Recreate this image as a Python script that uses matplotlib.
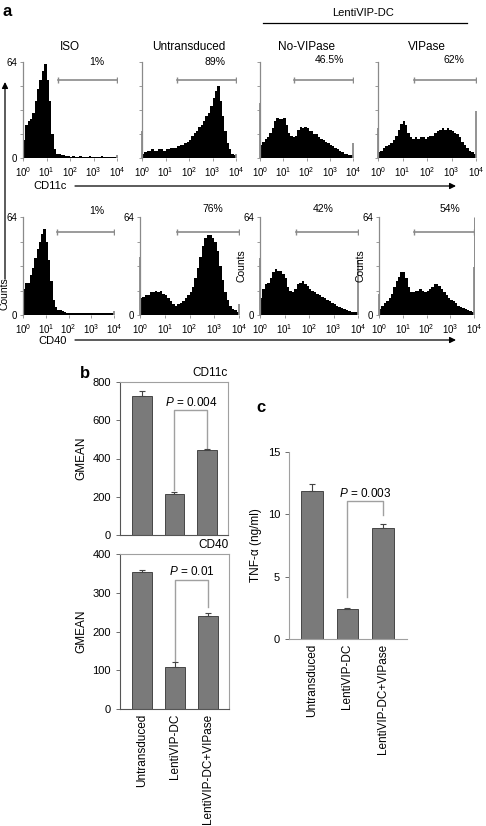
import numpy as np
import matplotlib
matplotlib.use("Agg")
import matplotlib.pyplot as plt

plt.rcParams["font.family"] = ["Liberation Sans", "DejaVu Sans"]
plt.rcParams["mathtext.fontset"] = "custom"
plt.rcParams["mathtext.rm"] = "Liberation Sans"
plt.rcParams["mathtext.it"] = "Liberation Sans:italic"

W, H = 486, 826

# ---- panel a: flow histograms (counts per 1/10 decade, 0-64 scale) ----
hist_titles = ["ISO", "Untransduced", "No-VIPase", "VIPase"]
cd11c_pct = ["1%", "89%", "46.5%", "62%"]
cd40_pct = ["1%", "76%", "42%", "54%"]

cd11c_iso = [12, 22, 25, 26, 30, 38, 46, 52, 58, 63, 52, 38, 16, 6, 3, 3, 2, 2, 1.5, 1.5,
             1, 1.5, 1, 1, 1.5, 1, 1, 1, 1.5, 1, 1, 1, 1, 1.5, 1, 1, 1, 1, 1, 1]
cd11c_untr = [3, 4, 5, 5, 6, 5, 5, 6, 6, 5, 6, 6, 7, 7, 7, 8, 9, 9, 10, 11,
              12, 15, 17, 18, 21, 22, 25, 28, 30, 35, 40, 45, 48, 38, 28, 18, 10, 6, 3, 2]
cd11c_novip = [9, 11, 13, 14, 17, 20, 25, 27, 26, 26, 27, 22, 17, 15, 14, 15, 19, 21, 20, 21,
               20, 18, 18, 16, 16, 14, 13, 12, 11, 10, 9, 8, 7, 6, 5, 4, 3, 2.5, 2, 2]
cd11c_vip = [4, 5, 7, 8, 9, 10, 12, 15, 19, 23, 25, 22, 17, 14, 13, 14, 13, 14, 14, 13,
             14, 15, 15, 17, 18, 19, 20, 19, 20, 19, 18, 17, 16, 14, 11, 9, 7, 5, 4, 3]

cd40_iso = [17, 21, 21, 26, 31, 37, 43, 48, 53, 56, 48, 36, 22, 10, 5, 3.5, 3, 2.5, 2, 1.5,
            1, 1, 1.5, 1, 1, 1, 1.5, 1, 1, 1, 1, 1.5, 1, 1, 1, 1, 1, 1, 1, 1]
cd40_untr = [11, 12, 13, 13, 15, 15, 16, 15, 16, 14, 13, 11, 9, 7, 6, 7, 8, 9, 11, 13,
             15, 18, 24, 31, 38, 45, 50, 52, 52, 50, 48, 42, 32, 23, 15, 10, 6, 4, 3, 2]
cd40_novip = [11, 17, 20, 21, 24, 28, 30, 29, 29, 27, 24, 18, 16, 15, 17, 20, 21, 22, 20, 19,
              17, 16, 15, 14, 13, 12, 11, 10, 9, 8, 7, 6, 5, 4.5, 4, 3, 2.5, 2, 2, 2]
cd40_vip = [4, 6, 8, 9, 11, 14, 18, 22, 25, 28, 28, 24, 18, 15, 15, 16, 16, 17, 16, 15,
            16, 17, 18, 20, 20, 19, 17, 15, 13, 11, 10, 9, 8, 6, 5, 4.5, 4, 3, 2.5, 2]

# off-scale first / last channel counts
cd11c_first = [0, 18, 37, 20]
cd11c_last = [2, 3, 10, 31.5]
cd40_first = [0, 38, 37, 13.5]
cd40_last = [2.5, 7, 36, 31.5]

gate_low, gate_high = 30, 1e4
cd11c_gate_y = 52
cd40_gate_y = 54

# ---- panel b / c: bar charts ----
groups = ["Untransduced", "LentiVIP-DC", "LentiVIP-DC+VIPase"]
cd11c_gmean = [725, 212, 442]
cd11c_err = [30, 14, 6]
cd40_gmean = [354, 108, 240]
cd40_err = [5, 13, 8]
tnf = [11.9, 2.4, 8.9]
tnf_err = [0.5, 0.1, 0.3]

fig = plt.figure(figsize=(W / 100, H / 100), dpi=100)


def rect(left, top, right, bottom):
    return [left / W, 1 - bottom / H, (right - left) / W, (bottom - top) / H]


edges = np.logspace(0, 4, 41)
grey = "#8a8a8a"


def flow_hist(box, counts, first, last, gate_y, pct, pct_xy, show_y, ylabel=False, title=None):
    ax = fig.add_axes(rect(*box))
    ax.stairs(counts, edges, fill=True, color="black", lw=0)
    if first:
        ax.vlines(1.03, 0, first, color=grey, lw=1.3, clip_on=False)
    ax.vlines(9700, 0, last, color=grey, lw=1.3, clip_on=False)
    ax.plot([gate_low, gate_high], [gate_y, gate_y], color=grey, lw=1.2,
            marker="|", ms=4, mew=1)
    ax.set_xscale("log")
    ax.set_xlim(1, 1e4)
    ax.set_ylim(0, 64)
    for s in ["top", "right", "bottom"]:
        ax.spines[s].set_visible(False)
    ax.spines["left"].set_color(grey)
    ax.spines["left"].set_linewidth(0.9)
    ax.set_xticks([1, 10, 100, 1000, 10000])
    ax.set_xticklabels([r"$10^{%d}$" % k for k in range(5)])
    ax.minorticks_off()
    ax.set_yticks([0, 16, 32, 48, 64])
    ax.set_yticklabels(["0", "", "", "", "64"] if show_y else [""] * 5)
    ax.tick_params(axis="both", labelsize=7, length=2, width=0.6, color=grey, pad=2)
    ax.tick_params(axis="x", pad=3)
    ax.text(pct_xy[0], pct_xy[1], pct, transform=ax.transAxes, fontsize=7.5,
            ha="center", va="center")
    if ylabel:
        ax.set_ylabel("Counts", fontsize=7.5, labelpad=-2)
    if title:
        ax.text(0.5, 1.16, title, transform=ax.transAxes, fontsize=8.5, ha="center", va="center")
    return ax


row1_boxes = [(23, 62, 117, 158), (142, 62, 236, 158), (260, 62, 353, 158), (378, 62, 476, 158)]
row2_boxes = [(23, 217, 114, 315), (140, 217, 239, 315), (260, 217, 358, 315), (379, 217, 474, 315)]
row1_pct_xy = [(0.79, 1.0), (0.78, 1.0), (0.75, 1.02), (0.77, 1.02)]
row2_pct_xy = [(0.81, 1.06), (0.74, 1.08), (0.64, 1.08), (0.75, 1.08)]

cd11c_sets = [cd11c_iso, cd11c_untr, cd11c_novip, cd11c_vip]
cd40_sets = [cd40_iso, cd40_untr, cd40_novip, cd40_vip]

for i in range(4):
    flow_hist(row1_boxes[i], cd11c_sets[i], cd11c_first[i], cd11c_last[i], cd11c_gate_y,
              cd11c_pct[i], row1_pct_xy[i], show_y=(i == 0), title=hist_titles[i])
    ax2 = flow_hist(row2_boxes[i], cd40_sets[i], cd40_first[i], cd40_last[i], cd40_gate_y,
                    cd40_pct[i], row2_pct_xy[i], show_y=True, ylabel=(i >= 2))
    if i == 3:
        ax2.vlines(9700, 0, 64, color=grey, lw=0.7, clip_on=False)

# ---- overlay for figure-level annotations ----
ov = fig.add_axes([0, 0, 1, 1], zorder=-1)
ov.set_xlim(0, W)
ov.set_ylim(H, 0)
ov.axis("off")

ov.text(2, 12, "a", fontsize=12, fontweight="bold", ha="left", va="center")
ov.text(80, 374, "b", fontsize=12, fontweight="bold", ha="left", va="center")
ov.text(256, 408, "c", fontsize=12, fontweight="bold", ha="left", va="center")

ov.text(363, 13, "LentiVIP-DC", fontsize=8, ha="center", va="center")
ov.plot([263, 467], [23, 23], color="black", lw=0.9)

arrow = dict(arrowstyle="-|>", color="black", lw=0.9, mutation_scale=9, shrinkA=0, shrinkB=0)
ov.annotate("", xy=(456, 186), xytext=(75, 186), arrowprops=arrow)
ov.text(50, 186, "CD11c", fontsize=8, ha="center", va="center")
ov.annotate("", xy=(456, 340), xytext=(75, 340), arrowprops=arrow)
ov.text(53, 341, "CD40", fontsize=8, ha="center", va="center")
ov.annotate("", xy=(5, 82), xytext=(5, 279), arrowprops=arrow)
ov.text(5, 294, "Counts", fontsize=7.5, rotation=90, ha="center", va="center")

# ---- bar charts ----
x = np.arange(len(groups))
bar_kw = dict(width=0.6, color="#7a7a7a", edgecolor="#333333", linewidth=0.6, zorder=2)
err_kw = dict(fmt="none", ecolor="#444444", elinewidth=0.8, capsize=2.5, capthick=0.8, zorder=3)
dark = "#555555"
light = "#a0a0a0"


def bar_panel(box, vals, errs, ylim, yticks, ylabel, frame, xlim):
    ax = fig.add_axes(rect(*box))
    ax.bar(x, vals, **bar_kw)
    ax.errorbar(x, vals, yerr=[[0] * len(vals), errs], **err_kw)
    ax.set_ylim(*ylim)
    ax.set_xlim(*xlim)
    ax.set_yticks(yticks)
    ax.set_ylabel(ylabel, fontsize=8.5)
    ax.tick_params(axis="y", labelsize=8, length=3, width=0.6, color=dark)
    ax.tick_params(axis="x", length=0)
    for s in ["left", "bottom"]:
        ax.spines[s].set_color(dark)
        ax.spines[s].set_linewidth(0.8)
    for s in ["top", "right"]:
        if frame:
            ax.spines[s].set_color(light)
            ax.spines[s].set_linewidth(0.8)
        else:
            ax.spines[s].set_visible(False)
    return ax


def bracket(ax, top, left_low, right_low, label, label_y):
    ax.plot([1, 1, 2, 2], [left_low, top, top, right_low], color=light, lw=1.0, zorder=1)
    ax.text(1.5, label_y, label, fontsize=8.5, ha="center", va="center")


b1 = bar_panel((120, 382, 228, 535), cd11c_gmean, cd11c_err, (0, 800), [0, 200, 400, 600, 800],
               "GMEAN", True, (-0.67, 2.64))
b1.set_xticks([])
b1.text(1, 1.02, "CD11c", transform=b1.transAxes, fontsize=8.5, ha="right", va="bottom")
bracket(b1, 654, 235, 455, r"$P$ = 0.004", 692)

b2 = bar_panel((120, 554, 229, 709), cd40_gmean, cd40_err, (0, 400), [0, 100, 200, 300, 400],
               "GMEAN", True, (-0.67, 2.64))
b2.set_xticks(x)
b2.set_xticklabels(groups, rotation=90, fontsize=8.5)
b2.text(1, 1.02, "CD40", transform=b2.transAxes, fontsize=8.5, ha="right", va="bottom")
bracket(b2, 333, 124, 262, r"$P$ = 0.01", 356)

c = bar_panel((289, 452, 407, 639), tnf, tnf_err, (0, 15), [0, 5, 10, 15],
              "TNF-\u03b1 (ng/ml)", False, (-0.65, 2.68))
c.set_xticks(x)
c.set_xticklabels(groups, rotation=90, fontsize=8.5)
c.spines["left"].set_color(light)
c.spines["bottom"].set_color(light)
bracket(c, 11.07, 3.4, 9.95, r"$P$ = 0.003", 11.7)

fig.savefig("out.png", dpi=100)
